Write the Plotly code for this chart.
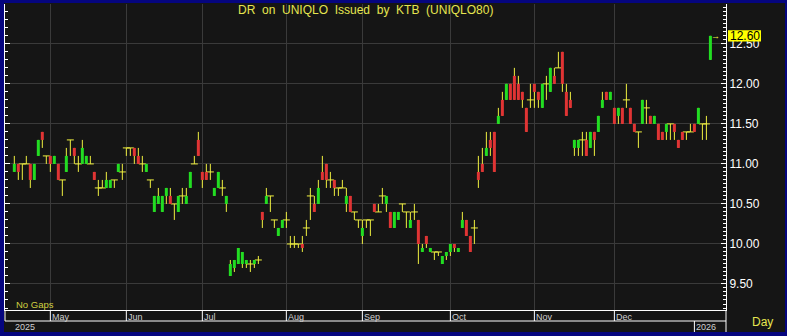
import plotly.graph_objects as go

# ---------------- data (index = trading day, "No Gaps") ----------------
open_ = [10.9, 11.0, 11.0, 11.0, 11.0, 10.8, 11.1, 11.4, 11.1, 11.1,
         11.0, 11.0, 10.8, 10.9, 11.3, 11.2, 11.0, 11.0, 11.0, 11.0,
         10.9, 10.7, 10.7, 10.7, 10.7, 10.8, 10.9, 10.9, 11.2, 11.2,
         11.2, 11.1, 11.0, 10.9, 10.8, 10.4, 10.5, 10.4, 10.6, 10.6,
         10.5, 10.4, 10.6, 10.5, 10.7, 11.0, 11.3, 10.9, 10.9, 10.9,
         10.6, 10.7, 10.7, 10.5, 9.6, 9.7, 9.75, 9.75, 9.75, 9.75,
         9.75, 9.8, 10.4, 10.5, 10.6, 10.3, 10.1, 10.2, 10.3, 10.0,
         10.0, 10.0, 10.0, 10.2, 10.6, 10.5, 10.5, 10.9, 11.0, 10.8,
         10.8, 10.7, 10.7, 10.5, 10.6, 10.4, 10.3, 10.1, 10.3, 10.3,
         10.5, 10.4, 10.6, 10.5, 10.4, 10.2, 10.3, 10.5, 10.4, 10.2,
         10.4, 10.3, 9.9, 10.1, 9.9, 9.9, 9.9, 9.75, 9.85, 9.9,
         10.0, 9.9, 10.2, 10.3, 10.1, 10.2, 10.9, 11.0, 11.1, 11.3,
         11.4, 11.5, 11.8, 11.8, 12.0, 12.1, 12.0, 11.9, 11.7, 11.8,
         12.0, 11.9, 11.7, 12.0, 11.9, 12.1, 12.2, 12.4, 11.9, 11.8,
         11.2, 11.2, 11.3, 11.3, 11.2, 11.4, 11.4, 11.7, 11.9, 11.8,
         11.7, 11.6, 11.7, 11.8, 11.7, 11.5, 11.4, 11.5, 11.7, 11.6,
         11.5, 11.5, 11.4, 11.4, 11.5, 11.5, 11.3, 11.4, 11.4, 11.4,
         11.5, 11.5, 11.5, 11.5, 12.3]
high = [11.1, 11.0, 11.0, 11.1, 11.0, 11.0, 11.3, 11.4, 11.1, 11.1,
        11.1, 11.0, 10.8, 11.2, 11.3, 11.2, 11.1, 11.3, 11.1, 11.1,
        10.9, 10.8, 10.8, 10.9, 10.8, 10.8, 11.0, 11.0, 11.2, 11.2,
        11.2, 11.2, 11.1, 11.0, 10.8, 10.6, 10.7, 10.6, 10.7, 10.7,
        10.5, 10.6, 10.7, 10.7, 10.9, 11.1, 11.4, 10.9, 11.0, 11.0,
        10.7, 10.9, 10.8, 10.6, 9.8, 9.8, 9.95, 9.9, 9.8, 9.8,
        9.8, 9.85, 10.4, 10.7, 10.6, 10.3, 10.2, 10.3, 10.4, 10.1,
        10.1, 10.0, 10.1, 10.3, 10.7, 10.6, 10.8, 11.1, 11.0, 10.9,
        10.8, 10.7, 10.8, 10.7, 10.6, 10.4, 10.3, 10.3, 10.3, 10.3,
        10.5, 10.5, 10.7, 10.6, 10.4, 10.4, 10.4, 10.5, 10.4, 10.4,
        10.5, 10.3, 10.0, 10.1, 9.95, 9.9, 9.9, 9.85, 9.9, 10.0,
        10.0, 9.95, 10.4, 10.3, 10.1, 10.3, 11.1, 11.2, 11.4, 11.4,
        11.4, 11.7, 11.9, 12.0, 12.0, 12.2, 12.1, 11.9, 11.7, 12.0,
        12.0, 11.9, 12.0, 12.1, 12.2, 12.2, 12.4, 12.4, 12.0, 11.9,
        11.3, 11.3, 11.4, 11.4, 11.4, 11.4, 11.6, 11.9, 11.9, 11.9,
        11.7, 11.7, 11.7, 12.0, 11.7, 11.5, 11.4, 11.8, 11.8, 11.6,
        11.6, 11.5, 11.4, 11.5, 11.5, 11.5, 11.3, 11.4, 11.4, 11.5,
        11.5, 11.7, 11.5, 11.6, 12.6]
low = [10.9, 10.8, 10.8, 11.0, 10.7, 10.8, 11.1, 11.2, 11.0, 10.9,
       11.0, 10.8, 10.6, 10.9, 11.1, 11.0, 10.9, 11.0, 11.0, 11.0,
       10.8, 10.6, 10.7, 10.7, 10.7, 10.7, 10.9, 10.8, 11.1, 11.1,
       11.0, 11.0, 10.9, 10.9, 10.7, 10.4, 10.5, 10.4, 10.5, 10.5,
       10.3, 10.4, 10.5, 10.5, 10.7, 11.0, 11.1, 10.7, 10.8, 10.8,
       10.6, 10.7, 10.6, 10.4, 9.6, 9.65, 9.75, 9.7, 9.7, 9.65,
       9.7, 9.75, 10.2, 10.5, 10.4, 10.2, 10.1, 10.2, 10.2, 9.95,
       9.95, 9.95, 9.9, 10.1, 10.3, 10.4, 10.5, 10.8, 10.7, 10.7,
       10.6, 10.6, 10.7, 10.4, 10.4, 10.3, 10.2, 10.0, 10.2, 10.1,
       10.4, 10.4, 10.5, 10.4, 10.2, 10.2, 10.3, 10.4, 10.2, 10.2,
       10.3, 9.75, 9.9, 9.95, 9.9, 9.8, 9.85, 9.75, 9.8, 9.85,
       9.9, 9.9, 10.2, 10.1, 9.9, 10.0, 10.7, 10.9, 11.1, 11.1,
       10.9, 11.5, 11.6, 11.8, 11.8, 11.8, 11.8, 11.7, 11.4, 11.7,
       11.7, 11.7, 11.7, 11.8, 11.9, 12.0, 12.2, 11.9, 11.6, 11.7,
       11.1, 11.1, 11.1, 11.1, 11.2, 11.1, 11.4, 11.7, 11.8, 11.8,
       11.5, 11.5, 11.5, 11.7, 11.5, 11.4, 11.2, 11.5, 11.5, 11.5,
       11.5, 11.3, 11.3, 11.3, 11.3, 11.3, 11.2, 11.3, 11.3, 11.4,
       11.4, 11.5, 11.3, 11.3, 12.3]
close = [11.0, 10.9, 11.0, 11.0, 10.8, 11.0, 11.3, 11.3, 11.1, 11.0,
         11.1, 10.8, 10.8, 11.1, 11.3, 11.1, 11.0, 11.2, 11.1, 11.0,
         10.8, 10.7, 10.7, 10.8, 10.8, 10.8, 11.0, 10.9, 11.2, 11.2,
         11.1, 11.0, 11.0, 11.0, 10.8, 10.6, 10.6, 10.6, 10.7, 10.5,
         10.5, 10.6, 10.6, 10.6, 10.9, 11.0, 11.1, 10.8, 10.8, 10.9,
         10.7, 10.9, 10.7, 10.6, 9.75, 9.8, 9.95, 9.9, 9.8, 9.75,
         9.8, 9.8, 10.3, 10.6, 10.6, 10.3, 10.2, 10.3, 10.3, 10.0,
         10.0, 10.0, 9.95, 10.2, 10.6, 10.4, 10.7, 10.8, 10.8, 10.8,
         10.7, 10.7, 10.7, 10.6, 10.4, 10.4, 10.3, 10.2, 10.3, 10.3,
         10.4, 10.4, 10.6, 10.6, 10.2, 10.4, 10.4, 10.5, 10.4, 10.3,
         10.4, 10.0, 9.95, 10.0, 9.95, 9.9, 9.9, 9.85, 9.9, 10.0,
         9.95, 9.95, 10.3, 10.1, 9.9, 10.2, 10.8, 10.9, 11.2, 11.2,
         10.9, 11.6, 11.6, 12.0, 11.8, 11.8, 11.8, 11.8, 11.4, 11.8,
         11.9, 11.8, 12.0, 12.0, 12.2, 12.0, 12.2, 12.0, 11.6, 11.7,
         11.3, 11.3, 11.3, 11.1, 11.4, 11.3, 11.6, 11.8, 11.8, 11.9,
         11.5, 11.7, 11.5, 11.8, 11.5, 11.4, 11.4, 11.8, 11.7, 11.5,
         11.6, 11.3, 11.3, 11.5, 11.5, 11.4, 11.2, 11.3, 11.4, 11.4,
         11.4, 11.7, 11.5, 11.5, 12.6]

month_labels = ["May", "Jun", "Jul", "Aug", "Sep", "Oct", "Nov", "Dec"]
month_start = [9, 28, 47, 68, 87, 109, 130, 150]
year_labels = ["2025", "2026"]
year_start = [0, 170]
y_ticks = [9.5, 10.0, 10.5, 11.0, 11.5, 12.0, 12.5]
title_text = "DR on UNIQLO Issued by KTB (UNIQLO80)"

# ---------------- styling ----------------
W, H = 787, 336
ML, MR, MT, MB = 5, 61, 4, 26
PW, PH = W - ML - MR, H - MT - MB
BLUE = "#05057f"
BG = "#151515"
GRID = "#3a3a3a"
GREEN = "#22dd22"
RED = "#e03434"
YEL = "#f0f040"
TXT_Y = "#e6e650"
FONT = "Liberation Sans, Arial, sans-serif"


def px_x(px):
    return (px - ML) / PW


def px_y(py):
    return (H - MB - py) / PH


n = len(close)
idx = list(range(n))

# wicks
wx, wy = [], []
for i in idx:
    wx += [i, i, None]
    wy += [low[i], high[i], None]

body_x, body_base, body_h, body_c = [], [], [], []
doji_x, doji_y = [], []
for i in idx:
    o, c = open_[i], close[i]
    if round(o, 3) == round(c, 3):
        doji_x.append(i)
        doji_y.append(c)
    else:
        body_x.append(i)
        body_base.append(min(o, c))
        body_h.append(abs(c - o))
        body_c.append(GREEN if c > o else RED)

fig = go.Figure()
fig.add_trace(go.Scatter(x=wx, y=wy, mode="lines", line=dict(color=YEL, width=1),
                         hoverinfo="skip", showlegend=False))
fig.add_trace(go.Scatter(x=doji_x, y=doji_y, mode="markers",
                         marker=dict(symbol="line-ew", size=5, line=dict(color=YEL, width=1)),
                         hoverinfo="skip", showlegend=False))
fig.add_trace(go.Bar(x=body_x, y=body_h, base=body_base, width=0.75,
                     marker=dict(color=body_c, line=dict(width=0)),
                     yaxis="y2", hoverinfo="skip", showlegend=False))

yr = [9.175, 12.998]
xr = [-2.33, 177.9]

shapes = [
    dict(type="rect", xref="paper", yref="paper", x0=px_x(4), x1=px_x(785),
         y0=px_y(332), y1=px_y(3), fillcolor=BG, line=dict(width=0), layer="below"),
    # date panel
    dict(type="line", xref="paper", yref="paper", x0=px_x(5), x1=px_x(726),
         y0=px_y(321), y1=px_y(321), line=dict(color="white", width=1)),
    dict(type="line", xref="paper", yref="paper", x0=px_x(726), x1=px_x(726),
         y0=px_y(310), y1=px_y(332), line=dict(color="white", width=1)),
    dict(type="line", xref="paper", yref="paper", x0=px_x(5), x1=px_x(5),
         y0=px_y(310), y1=px_y(321), line=dict(color="white", width=1)),
]
for m in month_start:
    shapes.append(dict(type="line", xref="x", yref="paper", x0=m, x1=m,
                       y0=px_y(310), y1=px_y(321), line=dict(color="white", width=1)))
shapes.append(dict(type="line", xref="x", yref="paper", x0=year_start[1], x1=year_start[1],
                   y0=px_y(321), y1=px_y(332), line=dict(color="white", width=1)))

# last price box
last = close[-1]
shapes.append(dict(type="rect", xref="paper", yref="y", x0=px_x(728), x1=px_x(761),
                   y0=last - 0.07, y1=last + 0.07, fillcolor="#ffff00", line=dict(width=0)))

annotations = [
    dict(text=title_text.replace(" ", "\u00a0 "), xref="paper", yref="paper", x=0.5, y=px_y(10),
         xanchor="center", yanchor="middle", showarrow=False,
         font=dict(family=FONT, size=12, color=TXT_Y)),
    dict(text="No Gaps", xref="paper", yref="paper", x=px_x(14), y=px_y(304),
         xanchor="left", yanchor="middle", showarrow=False,
         font=dict(family=FONT, size=9.5, color="#d0d040")),
    dict(text="Day", xref="paper", yref="paper", x=px_x(762), y=px_y(322),
         xanchor="center", yanchor="middle", showarrow=False,
         font=dict(family=FONT, size=12, color=TXT_Y)),
    dict(text=f"{last:.2f}", xref="paper", yref="y", x=px_x(744.5), y=last,
         xanchor="center", yanchor="middle", showarrow=False,
         font=dict(family=FONT, size=12, color="black")),
    dict(text="\u2192", xref="paper", yref="y", x=px_x(722), y=last,
         xanchor="right", yanchor="middle", showarrow=False,
         font=dict(family=FONT, size=9, color=YEL)),
]
for lab, m in zip(month_labels, month_start):
    annotations.append(dict(text=lab, xref="x", yref="paper", x=m, y=px_y(316.5),
                            xanchor="left", yanchor="middle", showarrow=False, xshift=0,
                            font=dict(family=FONT, size=9, color="#d0d0d0")))
for lab, s, sh in zip(year_labels, year_start, [-1, 0]):
    annotations.append(dict(text=lab, xref="x", yref="paper", x=s, y=px_y(327),
                            xanchor="left", yanchor="middle", showarrow=False, xshift=sh,
                            font=dict(family=FONT, size=9, color="#d0d0d0")))

fig.update_layout(
    width=W, height=H,
    margin=dict(l=ML, r=MR, t=MT, b=MB, pad=0),
    paper_bgcolor=BLUE, plot_bgcolor=BG,
    showlegend=False,
    xaxis=dict(range=xr, tickmode="array", tickvals=month_start, showticklabels=False,
               ticks="", showgrid=True, gridcolor=GRID, gridwidth=1, zeroline=False,
               showline=True, linecolor="white", linewidth=1, fixedrange=True),
    yaxis=dict(range=yr, side="right", tickmode="linear", tick0=9.5, dtick=0.5,
               tickformat=".2f", ticks="inside", ticklen=5, tickcolor="white",
               tickfont=dict(family=FONT, size=12, color="white"),
               minor=dict(dtick=0.05, tick0=9.0, ticks="inside", ticklen=3,
                          tickcolor="white", showgrid=False),
               showgrid=True, gridcolor=GRID, gridwidth=1, zeroline=False,
               showline=True, linecolor="white", linewidth=1, automargin=False),
    yaxis2=dict(range=yr, overlaying="y", side="left", tickmode="linear", tick0=9.5, dtick=0.5,
                ticks="inside", ticklen=5, tickcolor="white", showticklabels=False,
                minor=dict(dtick=0.1, tick0=9.0, ticks="inside", ticklen=3,
                           tickcolor="white", showgrid=False),
                showgrid=False, zeroline=False, showline=True, linecolor="white",
                linewidth=1, automargin=False),
    shapes=shapes,
    annotations=annotations,
)

fig.write_html("out.html")
